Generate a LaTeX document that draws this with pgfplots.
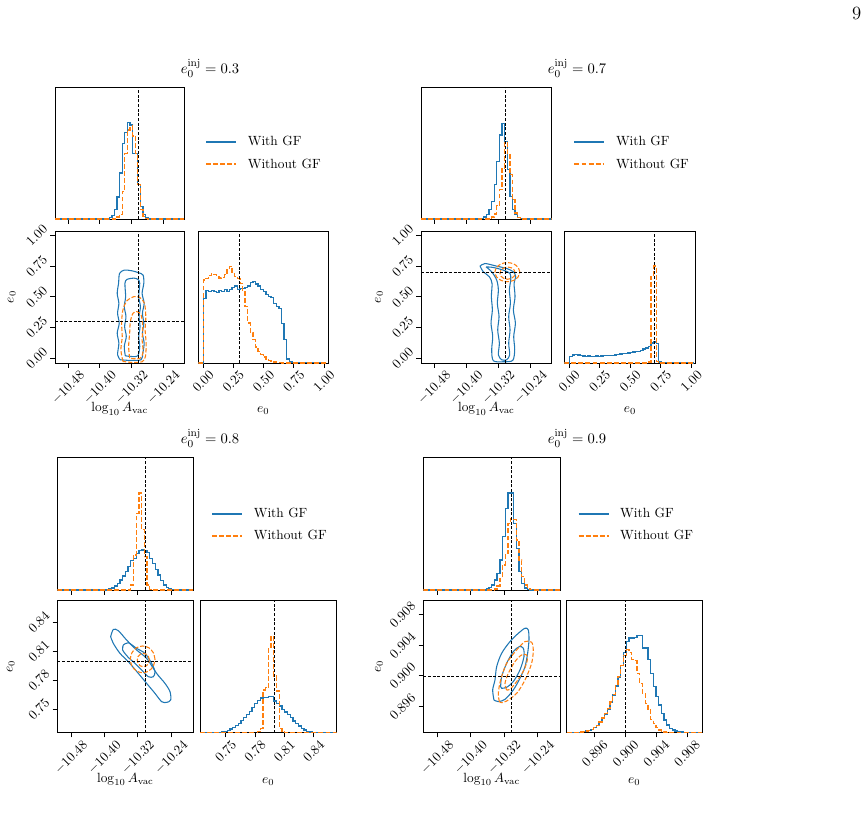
\documentclass[border=0pt]{standalone}
\usepackage{graphicx}
\usepackage{pgfplots}
\pgfplotsset{compat=1.18}
\definecolor{mblue}{HTML}{1F77B4}
\definecolor{morange}{HTML}{FF7F0E}
\pgfplotsset{
  corner/.style={
    scale only axis, axis line style={line width=0.65pt}, tick align=outside,
    major tick length=3.5pt, every tick/.style={black, line width=0.65pt},
    xtick pos=bottom, ytick pos=left, scaled ticks=false, clip=true,
    xticklabel style={/pgf/number format/fixed, /pgf/number format/fixed zerofill, /pgf/number format/precision=2, inner sep=1.5pt},
    yticklabel style={/pgf/number format/fixed, /pgf/number format/fixed zerofill, /pgf/number format/precision=2, inner sep=1.5pt},
  },
  xlab/.style={xticklabel={\rotatebox{45}{$\pgfmathprintnumber{\tick}$}}, xticklabel style={anchor=north}},
  ylab/.style={yticklabel={\rotatebox{45}{$\pgfmathprintnumber{\tick}$}}, yticklabel style={anchor=east}},
  logx/.style={xmin=-10.513, xmax=-10.187, xtick={-10.48,-10.40,-10.32,-10.24}},
  tophist/.style={corner, logx, ymin=0, ymax=397, xticklabels={}, ytick=\empty,
    legend cell align=left,
    legend image code/.code={\draw[##1, line width=1.4pt] (0pt,0pt) -- (22.5pt,0pt);},
    legend style={draw=none, fill=none, anchor=west, inner sep=0pt, row sep=7pt, column sep=7.5pt,
      nodes={inner sep=0.5pt}, font=\normalsize}},
  hb/.style={mblue, line width=0.95pt, const plot},
  ho/.style={morange, line width=0.95pt, const plot, dash pattern=on 3.7pt off 1.6pt},
  cb/.style={mblue, line width=0.8pt, smooth, tension=0.5, forget plot},
  co/.style={morange, line width=0.8pt, smooth, tension=0.5, dash pattern=on 3.2pt off 1.4pt, forget plot},
  tr/.style={black, line width=0.55pt, dash pattern=on 2.2pt off 1.3pt, forget plot},
}
\begin{document}
\begin{tikzpicture}
\useasboundingbox (0pt,0pt) rectangle (650.25pt,-610.5pt);
\node at (642.5pt,-10pt) {\fontsize{14}{16}\selectfont 9};
\node at (157.5pt,-51pt) {\fontsize{11}{13}\selectfont $e_0^{\mathrm{inj}} = 0.3$};
\node at (432.75pt,-51pt) {\fontsize{11}{13}\selectfont $e_0^{\mathrm{inj}} = 0.7$};
\node at (157.5pt,-328.5pt) {\fontsize{11}{13}\selectfont $e_0^{\mathrm{inj}} = 0.8$};
\node at (432.75pt,-328.5pt) {\fontsize{11}{13}\selectfont $e_0^{\mathrm{inj}} = 0.9$};

%%%%%%%%%%%%%%%% GROUP 1 : e0 = 0.3
\begin{axis}[tophist, at={(41.25pt,-65.25pt)}, anchor=north west, width=97pt, height=99pt,
  legend style={at={(1.16,0.498)}}]
\addplot[hb] coordinates {(-10.5130,0) (-10.3761,5) (-10.3696,10) (-10.3630,28) (-10.3565,66) (-10.3500,138) (-10.3435,228) (-10.3370,260) (-10.3304,290) (-10.3239,283) (-10.3174,198) (-10.3109,198) (-10.3044,103) (-10.2978,38) (-10.2913,13) (-10.2848,3) (-10.2783,0) (-10.1870,0)};
\addlegendentry{With GF}
\addplot[ho] coordinates {(-10.5130,0) (-10.3565,6) (-10.3500,13) (-10.3435,83) (-10.3370,198) (-10.3304,268) (-10.3239,280) (-10.3174,250) (-10.3109,198) (-10.3044,103) (-10.2978,28) (-10.2913,8) (-10.2848,2) (-10.2783,0) (-10.1870,0)};
\addlegendentry{Without GF}
\addplot[tr] coordinates {(-10.303,0) (-10.303,397)};
\end{axis}

\begin{axis}[corner, logx, xlab, ylab, at={(41.25pt,-173.25pt)}, anchor=north west, width=97pt, height=99pt,
  ymin=-0.04, ymax=1.035, ytick={0,0.25,0.5,0.75,1},
  xlabel={$\log_{10} A_{\mathrm{vac}}$}, xlabel style={at={(axis description cs:0.5,-0.37)}, anchor=base},
  ylabel={$e_0$}, ylabel style={at={(axis description cs:-0.335,0.5)}, anchor=center}]
\addplot[cb] coordinates {(-10.3486,-0.0135) (-10.3553,0.0270) (-10.3520,0.1216) (-10.3562,0.2027) (-10.3511,0.2838) (-10.3553,0.3649) (-10.3520,0.4459) (-10.3562,0.5270) (-10.3528,0.6081) (-10.3503,0.6892) (-10.3384,0.7162) (-10.3189,0.7108) (-10.3019,0.6946) (-10.2909,0.6757) (-10.2892,0.6081) (-10.2934,0.5270) (-10.2883,0.4459) (-10.2926,0.3649) (-10.2892,0.2838) (-10.2926,0.2027) (-10.2883,0.1216) (-10.2917,0.0405) (-10.2960,-0.0135) (-10.3231,-0.0189) (-10.3486,-0.0135)};
\addplot[cb] coordinates {(-10.3358,0.0189) (-10.3384,0.0946) (-10.3333,0.1757) (-10.3375,0.2568) (-10.3341,0.3378) (-10.3384,0.4189) (-10.3350,0.5) (-10.3367,0.6081) (-10.3316,0.6405) (-10.3146,0.6514) (-10.3036,0.6405) (-10.2994,0.6081) (-10.3019,0.5) (-10.2977,0.4189) (-10.3011,0.3378) (-10.2986,0.2568) (-10.3019,0.1757) (-10.2994,0.0946) (-10.3045,0.0189) (-10.3231,0.0135) (-10.3358,0.0189)};
\addplot[co] coordinates {(-10.3418,-0.0270) (-10.3469,0.0676) (-10.3435,0.1757) (-10.3452,0.2838) (-10.3418,0.3919) (-10.3316,0.4676) (-10.3146,0.5) (-10.2994,0.4946) (-10.2875,0.4459) (-10.2841,0.3378) (-10.2858,0.2297) (-10.2833,0.1216) (-10.2850,0.0135) (-10.2934,-0.0297) (-10.3189,-0.0351) (-10.3418,-0.0270)};
\addplot[co] coordinates {(-10.3248,0) (-10.3274,0.0946) (-10.3248,0.2027) (-10.3231,0.2973) (-10.3163,0.3649) (-10.3062,0.3784) (-10.2960,0.3514) (-10.2917,0.2568) (-10.2934,0.1486) (-10.2909,0.0541) (-10.2977,0) (-10.3146,-0.0054) (-10.3248,0)};
\addplot[tr] coordinates {(-10.303,-0.04) (-10.303,1.035)};
\addplot[tr] coordinates {(-10.513,0.3) (-10.187,0.3)};
\end{axis}

\begin{axis}[corner, xlab, at={(148.7pt,-173.25pt)}, anchor=north west, width=97.5pt, height=99pt,
  xmin=-0.04, xmax=1.035, ymin=0, ymax=397, xtick={0,0.25,0.5,0.75,1}, ytick=\empty,
  xlabel={$e_0$}, xlabel style={at={(axis description cs:0.5,-0.375)}, anchor=base}]
\addplot[hb] coordinates {(-0.0400,0) (0.0030,195) (0.0245,218) (0.0460,215) (0.0675,218) (0.0890,215) (0.1105,212) (0.1320,218) (0.1535,214) (0.1750,220) (0.1965,215) (0.2180,222) (0.2395,226) (0.2610,232) (0.2825,222) (0.3040,225) (0.3255,224) (0.3470,228) (0.3685,232) (0.3900,242) (0.4115,246) (0.4330,238) (0.4545,232) (0.4760,222) (0.4975,216) (0.5190,205) (0.5405,200) (0.5620,196) (0.5835,180) (0.6050,170) (0.6265,165) (0.6480,118) (0.6695,70) (0.6910,12) (0.7125,3) (0.7340,1) (1.0135,0)};
\addplot[ho] coordinates {(-0.0400,0) (0.0030,250) (0.0245,255) (0.0460,264) (0.0675,270) (0.0890,266) (0.1105,260) (0.1320,256) (0.1535,258) (0.1750,266) (0.1965,280) (0.2180,290) (0.2395,268) (0.2610,260) (0.2825,255) (0.3040,240) (0.3255,215) (0.3470,170) (0.3685,120) (0.3900,92) (0.4115,70) (0.4330,48) (0.4545,35) (0.4760,25) (0.4975,18) (0.5190,12) (0.5405,8) (0.5620,5) (0.5835,3) (0.6050,2) (0.6265,1) (0.6480,0) (1.0135,0)};
\addplot[tr] coordinates {(0.3,0) (0.3,397)};
\end{axis}

%%%%%%%%%%%%%%%% GROUP 2 : e0 = 0.7
\begin{axis}[tophist, at={(315.75pt,-65.25pt)}, anchor=north west, width=98pt, height=99pt,
  legend style={at={(1.165,0.498)}}]
\addplot[hb] coordinates {(-10.5130,0) (-10.3630,2) (-10.3565,6) (-10.3500,13) (-10.3435,28) (-10.3370,53) (-10.3304,103) (-10.3239,173) (-10.3174,253) (-10.3109,288) (-10.3044,233) (-10.2978,148) (-10.2913,68) (-10.2848,28) (-10.2783,13) (-10.2718,5) (-10.2652,2) (-10.2587,0) (-10.1870,0)};
\addlegendentry{With GF}
\addplot[ho] coordinates {(-10.5130,0) (-10.3370,6) (-10.3304,15) (-10.3239,40) (-10.3174,88) (-10.3109,153) (-10.3044,230) (-10.2978,198) (-10.2913,133) (-10.2848,58) (-10.2783,18) (-10.2718,5) (-10.2652,1) (-10.2587,0) (-10.1870,0)};
\addlegendentry{Without GF}
\addplot[tr] coordinates {(-10.303,0) (-10.303,397)};
\end{axis}

\begin{axis}[corner, logx, xlab, ylab, at={(315.75pt,-173.25pt)}, anchor=north west, width=98pt, height=99pt,
  ymin=-0.04, ymax=1.035, ytick={0,0.25,0.5,0.75,1},
  xlabel={$\log_{10} A_{\mathrm{vac}}$}, xlabel style={at={(axis description cs:0.5,-0.37)}, anchor=base},
  ylabel={$e_0$}, ylabel style={at={(axis description cs:-0.321,0.5)}, anchor=center}]
\addplot[cb] coordinates {(-10.3657,0.7486) (-10.3533,0.7703) (-10.3241,0.7486) (-10.2992,0.7297) (-10.2825,0.7027) (-10.2767,0.6622) (-10.2809,0.6081) (-10.2784,0.5) (-10.2825,0.3919) (-10.2775,0.2838) (-10.2817,0.1757) (-10.2792,0.0676) (-10.2842,-0.0189) (-10.3075,-0.0297) (-10.3325,-0.0216) (-10.3366,0.0676) (-10.3341,0.1757) (-10.3383,0.2838) (-10.3350,0.3919) (-10.3374,0.5) (-10.3358,0.6081) (-10.3424,0.6622) (-10.3574,0.7027) (-10.3657,0.7486)};
\addplot[cb] coordinates {(-10.3508,0.7432) (-10.3325,0.7378) (-10.3075,0.7162) (-10.2909,0.6892) (-10.2892,0.6351) (-10.2925,0.5541) (-10.2900,0.4459) (-10.2942,0.3378) (-10.2909,0.2297) (-10.2942,0.1216) (-10.2917,0.0270) (-10.2992,-0.0135) (-10.3117,-0.0135) (-10.3200,0.0270) (-10.3175,0.1216) (-10.3216,0.2297) (-10.3183,0.3378) (-10.3225,0.4459) (-10.3200,0.5541) (-10.3241,0.6351) (-10.3366,0.7027) (-10.3508,0.7432)};
\addplot[co] coordinates {(-10.2665,0.700) (-10.2707,0.739) (-10.2820,0.7675) (-10.2975,0.778) (-10.3130,0.7675) (-10.3243,0.739) (-10.3285,0.700) (-10.3243,0.661) (-10.3130,0.6325) (-10.2975,0.622) (-10.2820,0.6325) (-10.2707,0.661) (-10.2665,0.700)};
\addplot[co] coordinates {(-10.2780,0.692) (-10.2805,0.717) (-10.2875,0.7353) (-10.2970,0.742) (-10.3065,0.7353) (-10.3135,0.717) (-10.3160,0.692) (-10.3135,0.667) (-10.3065,0.6487) (-10.2970,0.642) (-10.2875,0.6487) (-10.2805,0.667) (-10.2780,0.692)};
\addplot[tr] coordinates {(-10.303,-0.04) (-10.303,1.035)};
\addplot[tr] coordinates {(-10.513,0.7) (-10.187,0.7)};
\end{axis}

\begin{axis}[corner, xlab, at={(423.2pt,-173.25pt)}, anchor=north west, width=98.5pt, height=99pt,
  xmin=-0.04, xmax=1.035, ymin=0, ymax=397, xtick={0,0.25,0.5,0.75,1}, ytick=\empty,
  xlabel={$e_0$}, xlabel style={at={(axis description cs:0.5,-0.375)}, anchor=base}]
\addplot[hb] coordinates {(-0.0400,0) (0.0030,20) (0.0245,24) (0.0460,26) (0.0675,24) (0.0890,22) (0.1105,21) (0.1320,20) (0.1535,21) (0.1750,20) (0.1965,20) (0.2180,21) (0.2395,20) (0.2610,21) (0.2825,22) (0.3040,22) (0.3255,23) (0.3470,23) (0.3685,24) (0.3900,25) (0.4115,27) (0.4330,28) (0.4545,29) (0.4760,30) (0.4975,31) (0.5190,33) (0.5405,35) (0.5620,35) (0.5835,38) (0.6050,42) (0.6265,45) (0.6480,50) (0.6695,60) (0.6910,63) (0.7125,58) (0.7340,3) (0.7555,1) (1.0135,0)};
\addplot[ho] coordinates {(-0.0400,0) (0.6480,3) (0.6695,260) (0.6910,292) (0.7125,4) (0.7340,0) (1.0135,0)};
\addplot[tr] coordinates {(0.7,0) (0.7,397)};
\end{axis}

%%%%%%%%%%%%%%%% GROUP 3 : e0 = 0.8
\begin{axis}[tophist, at={(43pt,-343pt)}, anchor=north west, width=102pt, height=99.5pt,
  legend style={at={(1.13,0.4905)}}]
\addplot[hb] coordinates {(-10.5130,0) (-10.3891,3) (-10.3826,6) (-10.3761,12) (-10.3696,20) (-10.3630,30) (-10.3565,42) (-10.3500,55) (-10.3435,70) (-10.3370,88) (-10.3304,95) (-10.3239,110) (-10.3174,118) (-10.3109,120) (-10.3044,118) (-10.2978,112) (-10.2913,95) (-10.2848,80) (-10.2783,62) (-10.2718,45) (-10.2652,28) (-10.2587,15) (-10.2522,8) (-10.2457,3) (-10.2392,1) (-10.2326,0) (-10.1870,0)};
\addlegendentry{With GF}
\addplot[ho] coordinates {(-10.5130,0) (-10.3370,15) (-10.3304,105) (-10.3239,230) (-10.3174,290) (-10.3109,180) (-10.3044,100) (-10.2978,15) (-10.2913,2) (-10.2848,0) (-10.1870,0)};
\addlegendentry{Without GF}
\addplot[tr] coordinates {(-10.303,0) (-10.303,397)};
\end{axis}

\begin{axis}[corner, logx, xlab, ylab, at={(43pt,-450pt)}, anchor=north west, width=102pt, height=99.5pt,
  ymin=0.726, ymax=0.863, ytick={0.75,0.78,0.81,0.84},
  xlabel={$\log_{10} A_{\mathrm{vac}}$}, xlabel style={at={(axis description cs:0.5,-0.377)}, anchor=base},
  ylabel={$e_0$}, ylabel style={at={(axis description cs:-0.343,0.5)}, anchor=center}]
\addplot[cb] coordinates {(-10.3852,0.8251) (-10.3788,0.8326) (-10.3668,0.8313) (-10.3468,0.8216) (-10.3228,0.8113) (-10.2989,0.8027) (-10.2749,0.7872) (-10.2549,0.7769) (-10.2429,0.7683) (-10.2413,0.7597) (-10.2509,0.7573) (-10.2629,0.7580) (-10.2789,0.7666) (-10.2989,0.7769) (-10.3188,0.7872) (-10.3428,0.7993) (-10.3628,0.8079) (-10.3788,0.8182) (-10.3852,0.8251)};
\addplot[cb] coordinates {(-10.3548,0.8165) (-10.3428,0.8189) (-10.3228,0.8130) (-10.3029,0.8079) (-10.2869,0.7976) (-10.2789,0.7890) (-10.2829,0.7838) (-10.2949,0.7838) (-10.3109,0.7907) (-10.3268,0.7976) (-10.3428,0.8037) (-10.3564,0.8113) (-10.3548,0.8165)};
\addplot[co] coordinates {(-10.2789,0.8017) (-10.2829,0.8086) (-10.2937,0.8137) (-10.3085,0.8155) (-10.3233,0.8137) (-10.3341,0.8086) (-10.3381,0.8017) (-10.3341,0.7948) (-10.3233,0.7897) (-10.3085,0.7879) (-10.2937,0.7897) (-10.2829,0.7948) (-10.2789,0.8017)};
\addplot[co] coordinates {(-10.2926,0.801) (-10.2945,0.8045) (-10.2998,0.807) (-10.3070,0.8079) (-10.3142,0.807) (-10.3195,0.8045) (-10.3214,0.801) (-10.3195,0.7975) (-10.3142,0.795) (-10.3070,0.7941) (-10.2998,0.795) (-10.2945,0.7975) (-10.2926,0.801)};
\addplot[tr] coordinates {(-10.303,0.726) (-10.303,0.863)};
\addplot[tr] coordinates {(-10.513,0.8) (-10.187,0.8)};
\end{axis}

\begin{axis}[corner, xlab, at={(150pt,-450pt)}, anchor=north west, width=102.5pt, height=99.5pt,
  xmin=0.7236, xmax=0.8636, ymin=0, ymax=397, xtick={0.75,0.78,0.81,0.84}, ytick=\empty,
  xlabel={$e_0$}, xlabel style={at={(axis description cs:0.5,-0.38)}, anchor=base}]
\addplot[hb] coordinates {(0.7236,0) (0.7460,2) (0.7488,4) (0.7516,7) (0.7544,11) (0.7572,16) (0.7600,21) (0.7628,28) (0.7656,36) (0.7684,45) (0.7712,55) (0.7740,63) (0.7768,75) (0.7796,88) (0.7824,96) (0.7852,104) (0.7880,106) (0.7908,106) (0.7936,108) (0.7964,108) (0.7992,95) (0.8020,88) (0.8048,80) (0.8076,70) (0.8104,62) (0.8132,55) (0.8160,45) (0.8188,35) (0.8216,27) (0.8244,20) (0.8272,13) (0.8300,8) (0.8328,4) (0.8356,2) (0.8384,1) (0.8412,0) (0.8636,0)};
\addplot[ho] coordinates {(0.7236,0) (0.7824,3) (0.7852,12) (0.7880,128) (0.7908,135) (0.7936,255) (0.7964,288) (0.7992,170) (0.8020,125) (0.8048,12) (0.8076,2) (0.8104,0) (0.8636,0)};
\addplot[tr] coordinates {(0.8,0) (0.8,397)};
\end{axis}

%%%%%%%%%%%%%%%% GROUP 4 : e0 = 0.9
\begin{axis}[tophist, at={(317.5pt,-343pt)}, anchor=north west, width=102.5pt, height=99.5pt,
  legend style={at={(1.127,0.4905)}}]
\addplot[hb] coordinates {(-10.5130,0) (-10.3630,3) (-10.3565,7) (-10.3500,15) (-10.3435,30) (-10.3370,50) (-10.3304,90) (-10.3239,160) (-10.3174,245) (-10.3109,290) (-10.3044,290) (-10.2978,200) (-10.2913,125) (-10.2848,55) (-10.2783,20) (-10.2718,6) (-10.2652,2) (-10.2587,0) (-10.1870,0)};
\addlegendentry{With GF}
\addplot[ho] coordinates {(-10.5130,0) (-10.3435,3) (-10.3370,12) (-10.3304,35) (-10.3239,75) (-10.3174,110) (-10.3109,200) (-10.3044,215) (-10.2978,210) (-10.2913,150) (-10.2848,90) (-10.2783,40) (-10.2718,15) (-10.2652,5) (-10.2587,1) (-10.2522,0) (-10.1870,0)};
\addlegendentry{Without GF}
\addplot[tr] coordinates {(-10.303,0) (-10.303,397)};
\end{axis}

\begin{axis}[corner, logx, xlab, ylab, at={(317.5pt,-450pt)}, anchor=north west, width=102.5pt, height=99.5pt,
  ymin=0.8926, ymax=0.9099, ytick={0.896,0.900,0.904,0.908},
  yticklabel style={/pgf/number format/precision=3},
  xlabel={$\log_{10} A_{\mathrm{vac}}$}, xlabel style={at={(axis description cs:0.5,-0.377)}, anchor=base},
  ylabel={$e_0$}, ylabel style={at={(axis description cs:-0.324,0.5)}, anchor=center}]
\addplot[cb] coordinates {(-10.3445,0.89686) (-10.3476,0.89817) (-10.3421,0.89947) (-10.3381,0.90121) (-10.3262,0.90295) (-10.3063,0.90448) (-10.2864,0.90556) (-10.2705,0.90622) (-10.2626,0.90600) (-10.2610,0.90469) (-10.2642,0.90295) (-10.2705,0.90121) (-10.2825,0.89969) (-10.2984,0.89817) (-10.3182,0.89695) (-10.3341,0.89665) (-10.3445,0.89686)};
\addplot[cb] coordinates {(-10.3286,0.89860) (-10.3262,0.89991) (-10.3143,0.90165) (-10.2984,0.90317) (-10.2840,0.90382) (-10.2745,0.90361) (-10.2729,0.90252) (-10.2825,0.90078) (-10.2984,0.89926) (-10.3143,0.89852) (-10.3262,0.89839) (-10.3286,0.89860)};
\addplot[co] coordinates {(-10.3317,0.89665) (-10.3341,0.89773) (-10.3286,0.89947) (-10.3143,0.90165) (-10.2904,0.90339) (-10.2705,0.90448) (-10.2547,0.90439) (-10.2507,0.90339) (-10.2547,0.90165) (-10.2705,0.89947) (-10.2904,0.89773) (-10.3143,0.89673) (-10.3262,0.89651) (-10.3317,0.89665)};
\addplot[co] coordinates {(-10.3143,0.89817) (-10.3182,0.89904) (-10.3103,0.90034) (-10.2944,0.90187) (-10.2785,0.90274) (-10.2666,0.90274) (-10.2650,0.90208) (-10.2729,0.90078) (-10.2904,0.89926) (-10.3063,0.89826) (-10.3143,0.89817)};
\addplot[tr] coordinates {(-10.303,0.8926) (-10.303,0.9099)};
\addplot[tr] coordinates {(-10.513,0.9) (-10.187,0.9)};
\end{axis}

\begin{axis}[corner, xlab, at={(425pt,-450pt)}, anchor=north west, width=101.5pt, height=99.5pt,
  xmin=0.89235, xmax=0.90995, ymin=0, ymax=397, xtick={0.896,0.900,0.904,0.908}, ytick=\empty,
  xticklabel style={/pgf/number format/precision=3},
  xlabel={$e_0$}, xlabel style={at={(axis description cs:0.5,-0.38)}, anchor=base}]
\addplot[hb] coordinates {(0.89235,0) (0.89376,1) (0.89411,2) (0.89446,3) (0.89481,5) (0.89517,7) (0.89552,10) (0.89587,15) (0.89622,22) (0.89657,30) (0.89693,42) (0.89728,55) (0.89763,70) (0.89798,90) (0.89833,113) (0.89869,140) (0.89904,165) (0.89939,200) (0.89974,240) (0.90009,273) (0.90045,283) (0.90080,283) (0.90115,285) (0.90150,290) (0.90185,290) (0.90221,253) (0.90256,253) (0.90291,218) (0.90326,178) (0.90361,138) (0.90397,108) (0.90432,83) (0.90467,58) (0.90502,38) (0.90537,23) (0.90573,13) (0.90608,8) (0.90643,5) (0.90678,3) (0.90713,2) (0.90749,1) (0.90784,0) (0.90995,0)};
\addplot[ho] coordinates {(0.89235,0) (0.89376,1) (0.89411,2) (0.89446,3) (0.89481,5) (0.89517,7) (0.89552,10) (0.89587,15) (0.89622,22) (0.89657,32) (0.89693,44) (0.89728,57) (0.89763,72) (0.89798,92) (0.89833,115) (0.89869,142) (0.89904,168) (0.89939,200) (0.89974,232) (0.90009,248) (0.90045,240) (0.90080,218) (0.90115,215) (0.90150,178) (0.90185,148) (0.90221,118) (0.90256,88) (0.90291,68) (0.90326,40) (0.90361,28) (0.90397,15) (0.90432,8) (0.90467,4) (0.90502,2) (0.90537,0) (0.90995,0)};
\addplot[tr] coordinates {(0.9,0) (0.9,397)};
\end{axis}
\end{tikzpicture}
\end{document}
